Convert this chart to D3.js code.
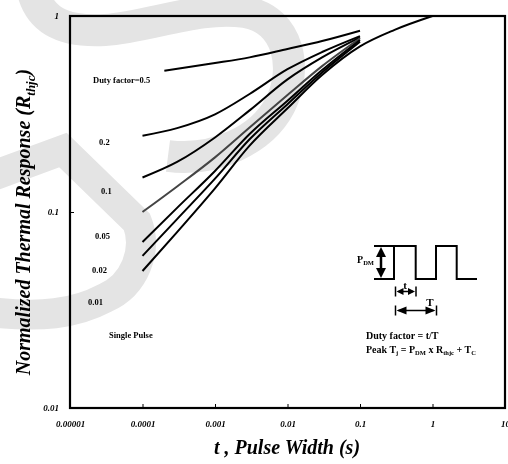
<!DOCTYPE html>
<html>
<head>
<meta charset="utf-8">
<script src="https://cdn.jsdelivr.net/npm/d3@7"></script>
<style>
  body { margin: 0; }
  svg { display: block; will-change: transform; }
  text { font-family: "Liberation Serif", "Times New Roman", serif; font-weight: bold; fill: #000; }
</style>
</head>
<body>
<div id="chart"></div>
<script>
// x ticks / y ticks
var xTicks = [1e-5, 1e-4, 1e-3, 1e-2, 1e-1, 1, 10];
var xTickLabels = ['0.00001', '0.0001', '0.001', '0.01', '0.1', '1', '10'];
var yTicks = [0.01, 0.1, 1];
var yTickLabels = ['0.01', '0.1', '1'];

// pulse width (s) where the duty curves are sampled
var tDuty = [1e-4, 3e-4, 1e-3, 3e-3, 1e-2, 3e-2, 1e-1];
var tHalf = [2e-4, 1e-3, 3e-3, 1e-2, 3e-2, 1e-1];
var tSingle = [1e-4, 3e-4, 1e-3, 3e-3, 1e-2, 3e-2, 1e-1, 0.3, 1];

// normalized thermal response
var duty05 = [0.526, 0.575, 0.615, 0.679, 0.745, 0.841];
var duty02 = [0.245, 0.268, 0.315, 0.40, 0.535, 0.655, 0.79];
var duty01 = [0.150, 0.180, 0.240, 0.330, 0.475, 0.615, 0.778];
var duty005 = [0.100, 0.135, 0.190, 0.270, 0.395, 0.555, 0.770];
var duty002 = [0.0703, 0.105, 0.162, 0.250, 0.370, 0.530, 0.755];
var duty001 = [0.0597, 0.092, 0.148, 0.235, 0.355, 0.515, 0.740];
var singlePulse = [0.050, 0.079, 0.132, 0.218, 0.338, 0.50, 0.70, 0.85, 1.0];

var curveLabels = ['Duty factor=0.5', '0.2', '0.1', '0.05', '0.02', '0.01', 'Single Pulse'];

var width = 508, height = 464;
var plot = { left: 70, right: 505, top: 16, bottom: 408 };

var svg = d3.select('#chart').append('svg')
  .attr('width', width).attr('height', height);

svg.append('rect').attr('width', width).attr('height', height).attr('fill', '#fff');

// faint watermark behind the chart
var wm = svg.append('g')
  .attr('fill', 'none')
  .attr('stroke', '#e4e4e4')
  .attr('stroke-linejoin', 'miter');
wm.append('path').attr('stroke-width', 32)
  .attr('d', 'M 33,-8 C 42,25 70,32 105,30 C 150,27 200,5 245,12 C 290,20 298,70 280,105 C 262,140 215,162 168,156');
wm.append('path').attr('stroke-width', 30)
  .attr('d', 'M -10,177 L 63,150 L 137,222 C 148,250 135,285 105,298 C 75,314 40,318 -10,312');

var x = d3.scaleLog().domain([1e-5, 10]).range([plot.left, plot.right]);
var y = d3.scaleLog().domain([0.01, 1]).range([plot.bottom, plot.top]);

// axes, ticks point inward
var xAxis = d3.axisBottom(x)
  .tickValues(xTicks)
  .tickFormat(function(d, i) { return xTickLabels[i]; })
  .tickSizeInner(-4).tickSizeOuter(0).tickPadding(13);
var gx = svg.append('g')
  .attr('transform', 'translate(0,' + plot.bottom + ')')
  .call(xAxis);
gx.select('.domain').remove();
gx.selectAll('line').attr('stroke', '#000').attr('stroke-width', 1);
gx.selectAll('text')
  .attr('font-family', '"Liberation Serif", serif')
  .attr('font-size', 9).attr('font-weight', 'bold').attr('font-style', 'italic');

var yAxis = d3.axisLeft(y)
  .tickValues(yTicks)
  .tickFormat(function(d, i) { return yTickLabels[i]; })
  .tickSizeInner(-4).tickSizeOuter(0).tickPadding(11);
var gy = svg.append('g')
  .attr('transform', 'translate(' + plot.left + ',0)')
  .call(yAxis);
gy.select('.domain').remove();
gy.selectAll('line').attr('stroke', '#000').attr('stroke-width', 1);
gy.selectAll('text')
  .attr('font-family', '"Liberation Serif", serif')
  .attr('font-size', 9).attr('font-weight', 'bold').attr('font-style', 'italic');

// frame
svg.append('rect')
  .attr('x', plot.left).attr('y', plot.top)
  .attr('width', plot.right - plot.left).attr('height', plot.bottom - plot.top)
  .attr('fill', 'none').attr('stroke', '#000').attr('stroke-width', 2.2);

// curves
var line = d3.line()
  .x(function(d) { return x(d[0]); })
  .y(function(d) { return y(d[1]); })
  .curve(d3.curveMonotoneX);

var series = [
  { t: tHalf, v: duty05, color: '#000' },
  { t: tDuty, v: duty02, color: '#000' },
  { t: tDuty, v: duty01, color: '#000' },
  { t: tDuty, v: duty005, color: '#444' },
  { t: tDuty, v: duty002, color: '#000' },
  { t: tDuty, v: duty001, color: '#000' },
  { t: tSingle, v: singlePulse, color: '#000' }
];

svg.append('g').selectAll('path')
  .data(series)
  .join('path')
  .attr('fill', 'none')
  .attr('stroke', function(d) { return d.color; })
  .attr('stroke-width', 2)
  .attr('d', function(d) { return line(d.t.map(function(t, i) { return [t, d.v[i]]; })); });

// curve labels
var labelPos = [[93, 83], [99, 145], [101, 194], [95, 239], [92, 273], [88, 305], [109, 338]];
svg.append('g').selectAll('text')
  .data(curveLabels)
  .join('text')
  .attr('x', function(d, i) { return labelPos[i][0]; })
  .attr('y', function(d, i) { return labelPos[i][1]; })
  .attr('font-size', 8.5)
  .text(function(d) { return d; });

// axis titles
svg.append('text')
  .attr('x', 287).attr('y', 454)
  .attr('text-anchor', 'middle')
  .attr('font-size', 20).attr('font-style', 'italic')
  .text('t , Pulse Width (s)');

var yt = svg.append('text')
  .attr('transform', 'translate(30,222) rotate(-90)')
  .attr('text-anchor', 'middle')
  .attr('font-size', 20).attr('font-style', 'italic');
yt.append('tspan').text('Normalized Thermal Response (R');
yt.append('tspan').attr('font-size', 13).attr('dy', 5).text('thjc');
yt.append('tspan').attr('dy', -5).text(')');

// pulse diagram
var pd = svg.append('g').attr('fill', 'none').attr('stroke', '#000');
var lo = 279, hi = 246;
pd.append('path').attr('stroke-width', 2)
  .attr('d', 'M374,' + lo + 'H394V' + hi + 'H415.7V' + lo + 'H436V' + hi + 'H456.7V' + lo + 'H477');
pd.append('path').attr('stroke-width', 2).attr('d', 'M374,' + hi + 'H394');

// filled arrow head with its tip at (px,py) pointing along (dx,dy)
function head(px, py, dx, dy, len, w) {
  var nx = -dy, ny = dx;
  var bx = px - dx * len, by = py - dy * len;
  svg.append('path')
    .attr('d', 'M' + px + ',' + py + 'L' + (bx + nx * w / 2) + ',' + (by + ny * w / 2) +
      'L' + (bx - nx * w / 2) + ',' + (by - ny * w / 2) + 'Z')
    .attr('fill', '#000');
}

pd.append('line').attr('x1', 381).attr('x2', 381).attr('y1', hi + 6).attr('y2', lo - 6)
  .attr('stroke-width', 2.5);
head(381, hi + 1, 0, -1, 10, 10);
head(381, lo - 1, 0, 1, 10, 10);

function span(x1, x2, yy, len, w) {
  pd.append('line').attr('x1', x1 + 3).attr('x2', x2 - 3).attr('y1', yy).attr('y2', yy)
    .attr('stroke-width', 1.5);
  pd.append('line').attr('x1', x1).attr('x2', x1).attr('y1', yy - 5).attr('y2', yy + 5).attr('stroke-width', 1.5);
  pd.append('line').attr('x1', x2).attr('x2', x2).attr('y1', yy - 5).attr('y2', yy + 5).attr('stroke-width', 1.5);
  head(x1 + 1, yy, -1, 0, len, w);
  head(x2 - 1, yy, 1, 0, len, w);
}
span(395.5, 416, 291.5, 7, 7);
span(395.5, 436.5, 310.5, 10, 8);

var pdm = svg.append('text').attr('x', 374).attr('y', 263).attr('text-anchor', 'end').attr('font-size', 10);
pdm.append('tspan').text('P');
pdm.append('tspan').attr('font-size', 6.5).attr('dy', 2).text('DM');
svg.append('text').attr('x', 405).attr('y', 289).attr('text-anchor', 'middle').attr('font-size', 11).text('t');
svg.append('text').attr('x', 430).attr('y', 306).attr('text-anchor', 'middle').attr('font-size', 11).text('T');

svg.append('text').attr('x', 366).attr('y', 338.5).attr('font-size', 10).text('Duty factor = t/T');
var pk = svg.append('text').attr('x', 366).attr('y', 352.5).attr('font-size', 10);
pk.append('tspan').text('Peak T');
pk.append('tspan').attr('font-size', 6.5).attr('dy', 2).text('j');
pk.append('tspan').attr('dy', -2).text(' = P');
pk.append('tspan').attr('font-size', 6.5).attr('dy', 2).text('DM');
pk.append('tspan').attr('dy', -2).text(' x R');
pk.append('tspan').attr('font-size', 6.5).attr('dy', 2).text('thjc');
pk.append('tspan').attr('dy', -2).text(' + T');
pk.append('tspan').attr('font-size', 6.5).attr('dy', 2).text('C');
</script>
</body>
</html>
